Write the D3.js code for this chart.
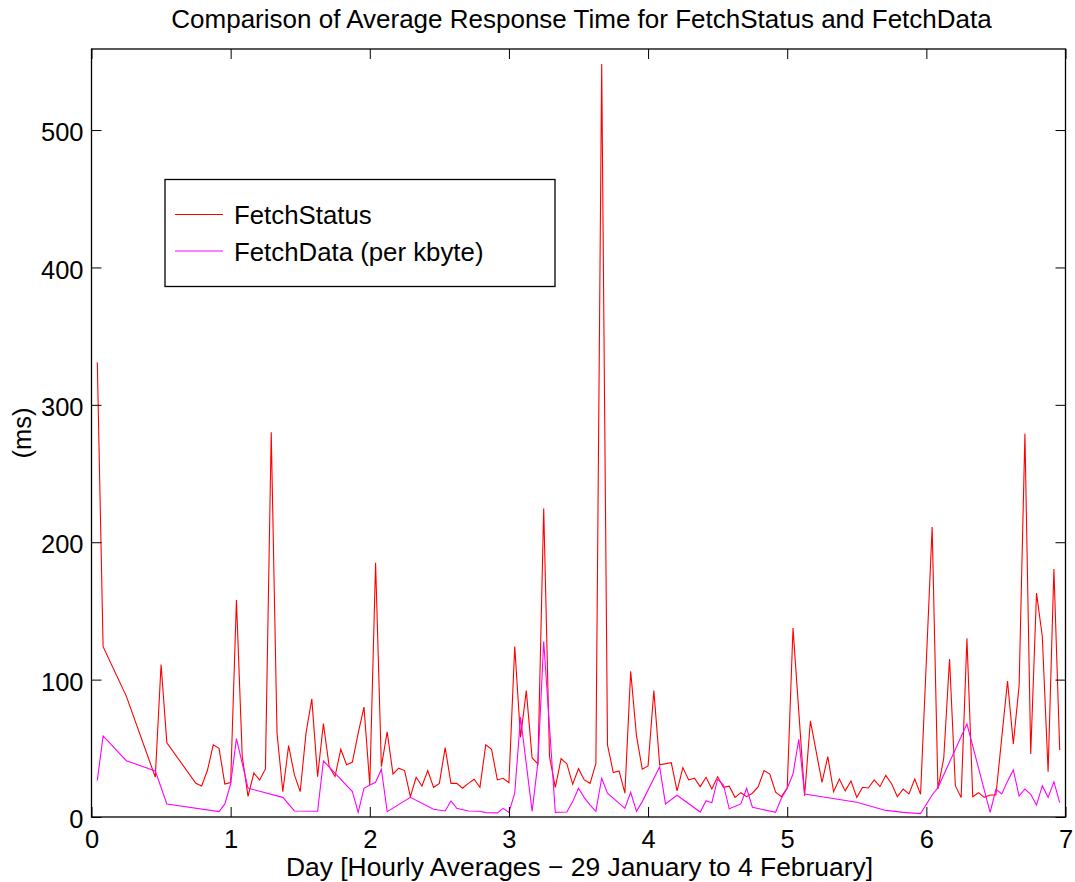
<!DOCTYPE html>
<html>
<head>
<meta charset="utf-8">
<script src="https://cdn.jsdelivr.net/npm/d3@7"></script>
<style>
  html, body { margin: 0; padding: 0; background: #fff; }
  svg { display: block; font-family: "Liberation Sans", Arial, Helvetica, sans-serif; }
</style>
</head>
<body>
<svg id="chart" width="1075" height="882"></svg>
<script>
// ---- data (hour of the week, hourly averages in ms) ----
const statusHours = [1,2,6,11,12,13,18,19,20,21,22,23,24,25,26,27,28,29,30,31,32,33,34,35,36,37,38,39,40,41,42,43,44,45,46,47,48,49,50,51,52,53,54,55,56,57,58,59,60,61,62,63,64,65,66,67,68,69,70,71,72,73,74,75,76,77,78,79,80,81,82,83,84,85,86,87,88,89,90,91,92,93,94,95,96,97,98,100,101,102,103,104,105,106,107,108,109,110,111,112,113,114,115,116,117,118,119,120,121,123,124,126,127,128,129,130,131,132,133,134,135,136,137,138,139,140,141,142,143,145,146,147,148,149,150,151,152,153,154,155,156,158,159,160,161,162,163,164,165,166,167];
const statusValues = [331,124,88,29,111,54,24.5,22.6,34,52.5,50,24,25,158,44,15,32,27,35,280,61,18.5,52,30.6,18.5,61,86,29.4,68,36.7,29.4,49.3,38,40,61,80,23.3,185,36.7,62,31.3,35.5,33.8,14.8,28.9,22.6,33.8,21.6,24.5,50.5,24.5,24.5,20.9,24.5,27.5,21.6,52.5,49.3,27,28.2,25,124,58,92,43,38.6,224.5,44,21.6,42.5,38.6,23.8,35.2,27,24.5,39,548,52.5,32.3,33.5,17.3,106,59,34.8,37.2,92,38,39.6,19,36,27,28.2,22.1,28.9,20.4,29.4,21.6,22.4,14.3,17.7,14.8,17.3,22.1,33.8,31.3,18,14.8,21,137.5,15.5,70,25.2,44,18.4,27.7,19,26.2,14.3,21.6,21.1,27,22.1,30.3,24.2,14.8,20.4,16.8,27.7,16.5,211,20.4,42.8,115,22.8,14.1,130,14.8,17.7,14.3,16,16,99,53.2,95.7,279,45.9,163,131.4,33,180.5,48.8];

const dataHours = [1,2,6,11,13,22,23,24,25,27,33,35,39,40,45,46,47,48,49,50,51,55,59,61,62,63,65,67,68,70,71,72,73,74,76,77,78,80,82,83,84,85,86,87,88,89,92,93,94,95,98,99,101,105,106,107,108,109,110,112,113,114,118,119,120,121,122,123,132,137,140,143,145,146,151,155,156,157,158,159,160,161,162,163,164,165,166,167];
const dataValues = [26.5,59,41,33.5,9.5,3.9,9.5,24,57,21,14.3,4.4,4.2,40.8,18.5,3.4,20.9,23.3,25.3,34.8,3.9,14.3,5.6,4.4,11.7,6.3,4.4,4.2,3.2,3,6.3,3.4,17.3,72.7,4.1,39.6,127.8,3.4,3.6,11.2,20.9,14.1,8.7,4.1,28.2,17.3,6.3,18,4.1,11.2,36.5,9.5,15.8,3.6,11.9,10.4,27.5,23.3,6,9.5,20.9,7.1,3.4,13.6,20.9,31.3,56.6,16.8,10.7,4.8,3.4,2.5,16,21.4,67.8,3.4,20.2,16.8,26,34.3,15.3,20.4,16.5,8.7,22.8,14.3,25.7,10.4];

const xTicks = [0,1,2,3,4,5,6,7];
const yTicks = [0,100,200,300,400,500];
const seriesNames = ["FetchStatus", "FetchData (per kbyte)"];
const seriesColors = ["#ff0000", "#ff00ff"];
const titleText = "Comparison of Average Response Time for FetchStatus and FetchData";
const xLabelText = "Day [Hourly Averages \u2212 29 January to 4 February]";
const yLabelText = "(ms)";

// ---- layout ----
const L = 91.5, R = 1065.5, T = 49, B = 817;
const FONT = 25.5;
const svg = d3.select("#chart");

const x = d3.scaleLinear().domain([0, 7]).range([L, R]);
const y = d3.scaleLinear().domain([0, 559]).range([B, T]);

const statusPts = statusHours.map((h, i) => [h / 24, statusValues[i]]);
const dataPts = dataHours.map((h, i) => [h / 24, dataValues[i]]);

const line = d3.line().x(d => x(d[0])).y(d => y(d[1]));

// series
svg.append("path").datum(statusPts).attr("d", line)
  .attr("fill", "none").attr("stroke", seriesColors[0]).attr("stroke-width", 1.1);
svg.append("path").datum(dataPts).attr("d", line)
  .attr("fill", "none").attr("stroke", seriesColors[1]).attr("stroke-width", 1.1);

// axes
function styleAxis(g) {
  g.select(".domain").remove();
  g.selectAll(".tick line").attr("stroke", "#000").attr("stroke-width", 1);
  g.selectAll(".tick text").attr("fill", "#000").style("font-size", FONT + "px")
    .style("font-family", "'Liberation Sans', Arial, Helvetica, sans-serif");
}
svg.append("g").attr("transform", `translate(0,${B})`)
  .call(d3.axisBottom(x).tickValues(xTicks).tickFormat(d3.format("d")).tickSize(-10).tickPadding(13))
  .call(styleAxis);
svg.append("g").attr("transform", `translate(0,${T})`)
  .call(d3.axisTop(x).tickValues(xTicks).tickFormat("").tickSize(-10))
  .call(styleAxis);
svg.append("g").attr("transform", `translate(${L},0)`)
  .call(d3.axisLeft(y).tickValues(yTicks).tickFormat(d3.format("d")).tickSize(-10).tickPadding(8))
  .call(styleAxis)
  .selectAll(".tick text").attr("dy", "0.42em");
svg.append("g").attr("transform", `translate(${R},0)`)
  .call(d3.axisRight(y).tickValues(yTicks).tickFormat("").tickSize(-10))
  .call(styleAxis);

// frame
svg.append("rect").attr("x", L).attr("y", T).attr("width", R - L).attr("height", B - T)
  .attr("fill", "none").attr("stroke", "#000").attr("stroke-width", 1.3);

// title & labels
svg.append("text").attr("x", (L + R) / 2 + 3).attr("y", 28).attr("text-anchor", "middle")
  .style("font-size", "26px").text(titleText);
svg.append("text").attr("x", (L + R) / 2 + 1).attr("y", 876).attr("text-anchor", "middle")
  .style("font-size", "26.4px").text(xLabelText);
svg.append("text").attr("transform", `translate(31,${(T + B) / 2}) rotate(-90)`)
  .attr("text-anchor", "middle").style("font-size", FONT + "px").text(yLabelText);

// legend
const lg = svg.append("g");
lg.append("rect").attr("x", 165).attr("y", 179.5).attr("width", 390).attr("height", 107)
  .attr("fill", "#fff").attr("stroke", "#000").attr("stroke-width", 1.3);
const legY = [214.5, 251];
seriesNames.forEach((name, i) => {
  lg.append("line").attr("x1", 175).attr("x2", 223).attr("y1", legY[i]).attr("y2", legY[i])
    .attr("stroke", seriesColors[i]).attr("stroke-width", 1.1);
  lg.append("text").attr("x", 234).attr("y", legY[i] + 9.5)
    .style("font-size", "25.8px").text(name);
});
</script>
</body>
</html>
